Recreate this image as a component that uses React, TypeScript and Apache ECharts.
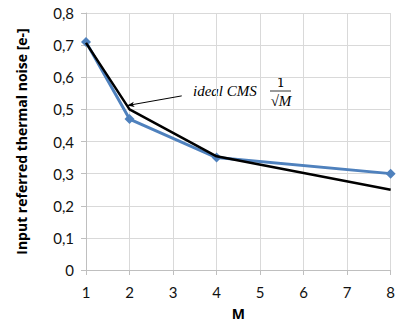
import React, { useEffect, useRef } from "react";
import * as echarts from "echarts";

const mValues = [1, 2, 4, 8];
const measured = [0.71, 0.47, 0.35, 0.3];
const ideal = [0.707, 0.5, 0.354, 0.25];
const arrowFrom = [3.2, 0.542];
const arrowTo = [1.95, 0.512];

export default function App() {
  const ref = useRef<HTMLDivElement>(null);
  useEffect(() => {
    const chart = echarts.init(ref.current!, null, { renderer: "svg" });
    const font = "Lato, 'Open Sans', sans-serif";
    chart.setOption({
      animation: false,
      grid: { left: 86, right: 7, top: 13, bottom: 57 },
      xAxis: {
        type: "value",
        min: 1,
        max: 8,
        interval: 1,
        name: "M",
        nameLocation: "middle",
        nameGap: 36,
        nameTextStyle: { fontFamily: "'Open Sans', sans-serif", fontWeight: "bold", fontSize: 14, color: "#000" },
        axisLine: { show: true, lineStyle: { color: "#bfbfbf" } },
        axisTick: { show: true, length: 5, lineStyle: { color: "#bfbfbf" } },
        axisLabel: { fontFamily: font, fontSize: 15, color: "#111", margin: 14 },
        splitLine: { show: true, lineStyle: { color: "#d9d9d9" } },
      },
      yAxis: {
        type: "value",
        min: 0,
        max: 0.8,
        interval: 0.1,
        name: "Input referred thermal noise [e-]",
        nameLocation: "middle",
        nameGap: 58,
        nameTextStyle: { fontFamily: "'Open Sans', sans-serif", fontWeight: "bold", fontSize: 14, color: "#000" },
        axisLine: { show: true, lineStyle: { color: "#bfbfbf" } },
        axisTick: { show: true, length: 5, lineStyle: { color: "#bfbfbf" } },
        axisLabel: {
          fontFamily: font,
          fontSize: 15,
          color: "#111",
          margin: 12,
          formatter: (v: number) => (v === 0 ? "0" : v.toFixed(1).replace(".", ",")),
        },
        splitLine: { show: true, lineStyle: { color: "#d9d9d9" } },
      },
      series: [
        {
          type: "line",
          data: mValues.map((m, i) => [m, measured[i]]),
          symbol: "diamond",
          symbolSize: 10,
          lineStyle: { color: "#4F81BD", width: 3 },
          itemStyle: { color: "#4F81BD" },
          z: 2,
        },
        {
          type: "line",
          data: mValues.map((m, i) => [m, ideal[i]]),
          symbol: "none",
          lineStyle: { color: "#000", width: 2.5 },
          z: 3,
          markLine: {
            silent: true,
            symbol: ["none", "arrow"],
            symbolSize: [4, 7],
            label: { show: false },
            lineStyle: { color: "#000", width: 1, type: "solid" },
            data: [[{ coord: arrowFrom }, { coord: arrowTo }]],
          },
        },
      ],
      graphic: [
        {
          type: "text",
          x: 193,
          y: 91,
          style: {
            text: "ideal CMS",
            font: "italic 15px 'Liberation Serif', 'DejaVu Serif', serif",
            fill: "#000",
            verticalAlign: "middle",
          },
        },
        {
          type: "text",
          x: 281,
          y: 82,
          style: {
            text: "1",
            font: "13px 'DejaVu Serif', serif",
            fill: "#000",
            align: "center",
            verticalAlign: "middle",
          },
        },
        {
          type: "line",
          shape: { x1: 270, y1: 91, x2: 291, y2: 91 },
          style: { stroke: "#000", lineWidth: 0.8 },
        },
        {
          type: "text",
          x: 281,
          y: 101,
          style: {
            text: "√M",
            font: "italic 15px 'Liberation Serif', serif",
            fill: "#000",
            align: "center",
            verticalAlign: "middle",
          },
        },
      ],
    });
    return () => chart.dispose();
  }, []);
  return <div ref={ref} style={{ width: 398, height: 327, position: "absolute", left: 0, top: 0 }} />;
}
